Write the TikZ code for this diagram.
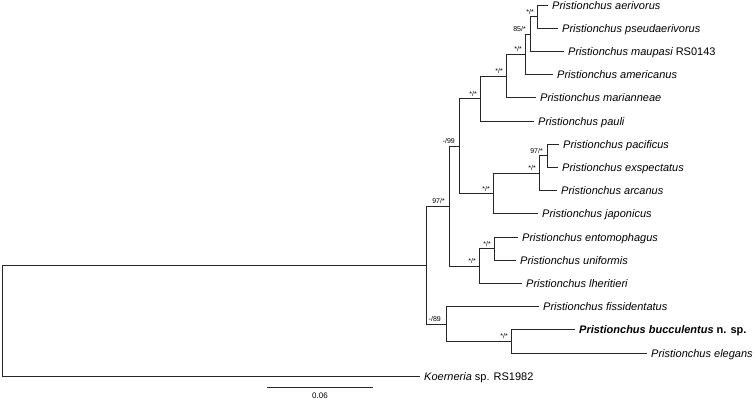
\documentclass[tikz,border=0pt]{standalone}
\usepackage{fontspec}
\setmainfont{Liberation Sans}
\begin{document}
\begin{tikzpicture}[x=1pt,y=-1pt,
  branch/.style={draw=black!85,line width=0.8pt},
  leaf/.style={anchor=west,inner sep=0pt,text height=8pt,text depth=0pt,font=\fontsize{11}{13}\selectfont\itshape},
  supp/.style={anchor=base east,inner sep=0pt,font=\fontsize{7}{8}\selectfont},
  scalelbl/.style={inner sep=0pt,font=\fontsize{8}{9}\selectfont}]
\useasboundingbox (0,0) rectangle (756,400);
% leaf tips
\coordinate (t1) at (548,5);
\coordinate (t2) at (558,28.2);
\coordinate (t3) at (564,51.4);
\coordinate (t4) at (553,74.6);
\coordinate (t5) at (536,97.8);
\coordinate (t6) at (534,121);
\coordinate (t7) at (559,144.2);
\coordinate (t8) at (558,167.4);
\coordinate (t9) at (557,190.6);
\coordinate (t10) at (538,213.8);
\coordinate (t11) at (518,237);
\coordinate (t12) at (516,260.2);
\coordinate (t13) at (522,283.4);
\coordinate (t14) at (539,306.6);
\coordinate (t15) at (575,329.8);
\coordinate (t16) at (647,353);
\coordinate (t17) at (420,376.2);
% internal nodes
\coordinate (n1) at (537,16.6);
\coordinate (n2) at (530,34.0);
\coordinate (n3) at (525,54.3);
\coordinate (n4) at (506,76.05);
\coordinate (n5) at (480,98.5);
\coordinate (nF) at (547,155.8);
\coordinate (nE) at (539,173.2);
\coordinate (nD) at (493,193.5);
\coordinate (nC) at (459,146.0);
\coordinate (nG) at (494,248.6);
\coordinate (nH) at (479,266.0);
\coordinate (nB) at (449,206.0);
\coordinate (nJ) at (511,341.4);
\coordinate (nI) at (446,324.0);
\coordinate (nA) at (426,265.0);
\coordinate (nR) at (2,320.6);
% branches
\draw[branch] (n1) |- (t1); \draw[branch] (n1) |- (t2);
\draw[branch] (n2) |- (n1); \draw[branch] (n2) |- (t3);
\draw[branch] (n3) |- (n2); \draw[branch] (n3) |- (t4);
\draw[branch] (n4) |- (n3); \draw[branch] (n4) |- (t5);
\draw[branch] (n5) |- (n4); \draw[branch] (n5) |- (t6);
\draw[branch] (nF) |- (t7); \draw[branch] (nF) |- (t8);
\draw[branch] (nE) |- (nF); \draw[branch] (nE) |- (t9);
\draw[branch] (nD) |- (nE); \draw[branch] (nD) |- (t10);
\draw[branch] (nC) |- (n5); \draw[branch] (nC) |- (nD);
\draw[branch] (nG) |- (t11); \draw[branch] (nG) |- (t12);
\draw[branch] (nH) |- (nG); \draw[branch] (nH) |- (t13);
\draw[branch] (nB) |- (nC); \draw[branch] (nB) |- (nH);
\draw[branch] (nJ) |- (t15); \draw[branch] (nJ) |- (t16);
\draw[branch] (nI) |- (t14); \draw[branch] (nI) |- (nJ);
\draw[branch] (nA) |- (nB); \draw[branch] (nA) |- (nI);
\draw[branch] (nR) |- (nA); \draw[branch] (nR) |- (t17);
% leaf labels
\node[leaf] (L1) at ([xshift=4pt]t1) {Pristionchus aerivorus};
\node[leaf] (L2) at ([xshift=4pt]t2) {Pristionchus pseudaerivorus};
\node[leaf] (L3) at ([xshift=4pt]t3) {Pristionchus maupasi \upshape RS0143};
\node[leaf] (L4) at ([xshift=4pt]t4) {Pristionchus americanus};
\node[leaf] (L5) at ([xshift=4pt]t5) {Pristionchus marianneae};
\node[leaf] (L6) at ([xshift=4pt]t6) {Pristionchus pauli};
\node[leaf] (L7) at ([xshift=4pt]t7) {Pristionchus pacificus};
\node[leaf] (L8) at ([xshift=4pt]t8) {Pristionchus exspectatus};
\node[leaf] (L9) at ([xshift=4pt]t9) {Pristionchus arcanus};
\node[leaf] (L10) at ([xshift=4pt]t10) {Pristionchus japonicus};
\node[leaf] (L11) at ([xshift=4pt]t11) {Pristionchus entomophagus};
\node[leaf] (L12) at ([xshift=4pt]t12) {Pristionchus uniformis};
\node[leaf] (L13) at ([xshift=4pt]t13) {Pristionchus lheritieri};
\node[leaf] (L14) at ([xshift=4pt]t14) {Pristionchus fissidentatus};
\node[leaf] (L15) at ([xshift=4pt]t15) {\bfseries Pristionchus bucculentus \upshape n. sp.};
\node[leaf] (L16) at ([xshift=4pt]t16) {Pristionchus elegans};
\node[leaf] (L17) at ([xshift=4pt]t17) {Koerneria \upshape sp. RS1982};
% support values
\node[supp] (s1) at ([xshift=-3pt,yshift=2.5pt]n1) {*/*};
\node[supp] (s2) at ([xshift=-4pt,yshift=2.5pt]n2) {85/*};
\node[supp] (s3) at ([xshift=-3pt,yshift=2.5pt]n3) {*/*};
\node[supp] (s4) at ([xshift=-3pt,yshift=2.5pt]n4) {*/*};
\node[supp] (s5) at ([xshift=-3pt,yshift=2.5pt]n5) {*/*};
\node[supp] (sF) at ([xshift=-4pt,yshift=2.5pt]nF) {97/*};
\node[supp] (sE) at ([xshift=-3pt,yshift=2.5pt]nE) {*/*};
\node[supp] (sD) at ([xshift=-3pt,yshift=2.5pt]nD) {*/*};
\node[supp] (sC) at ([xshift=-4pt,yshift=2.5pt]nC) {-/99};
\node[supp] (sG) at ([xshift=-3pt,yshift=2.5pt]nG) {*/*};
\node[supp] (sH) at ([xshift=-3pt,yshift=2.5pt]nH) {*/*};
\node[supp] (sB) at ([xshift=-4pt,yshift=2.5pt]nB) {97/*};
\node[supp] (sJ) at ([xshift=-3pt,yshift=2.5pt]nJ) {*/*};
\node[supp] (sI) at ([xshift=-5pt,yshift=2.5pt]nI) {-/89};
% scale bar
\coordinate (sb1) at (267,387);
\coordinate (sb2) at (373,387);
\draw[branch] (sb1) -- (sb2);
\node[scalelbl] (sbl) at (320,396) {0.06};
\end{tikzpicture}
\end{document}
